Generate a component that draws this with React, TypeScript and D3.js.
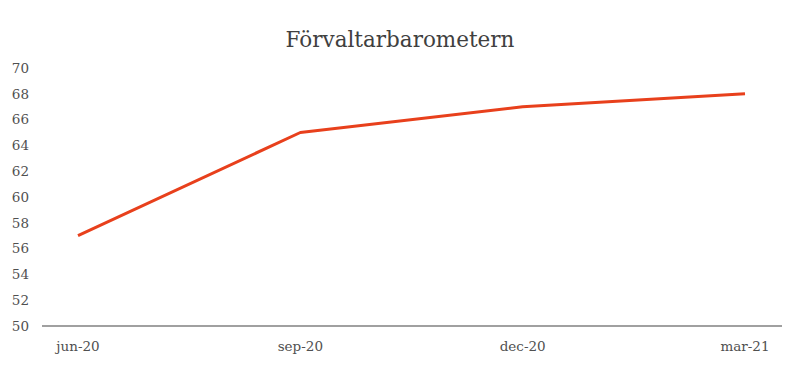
import React from "react";
import * as d3 from "d3";

const categories = ["jun-20", "sep-20", "dec-20", "mar-21"];
const values = [57, 65, 67, 68];
const yTicks = [50, 52, 54, 56, 58, 60, 62, 64, 66, 68, 70];
const title = "Förvaltarbarometern";

const W = 800;
const H = 365;
const font = "Georgia, 'DejaVu Serif', 'Liberation Serif', serif";

export default function App() {
  const x = d3.scalePoint<string>().domain(categories).range([78, 745]);
  const y = d3.scaleLinear().domain([50, 70]).range([326, 68]);
  const line = d3
    .line<number>()
    .x((_, i) => x(categories[i]) as number)
    .y((d) => y(d));
  return (
    <svg width={W} height={H} style={{ position: "absolute", left: 0, top: 0, background: "#fff" }}>
      <text x={400} y={47} textAnchor="middle" fontFamily={font} fontSize={21.5} fill="#404040">
        {title}
      </text>
      {yTicks.map((t) => (
        <text key={t} x={29} y={y(t)} dy="0.35em" textAnchor="end" fontFamily={font} fontSize={13.5} fill="#505050">
          {t}
        </text>
      ))}
      <line x1={42} x2={782} y1={y(50)} y2={y(50)} stroke="#808080" strokeWidth={1.5} />
      {categories.map((c) => (
        <text key={c} x={x(c)} y={351} textAnchor="middle" fontFamily={font} fontSize={13.5} fill="#505050">
          {c}
        </text>
      ))}
      <path d={line(values) || ""} fill="none" stroke="#E8401C" strokeWidth={3} strokeLinejoin="round" />
    </svg>
  );
}
